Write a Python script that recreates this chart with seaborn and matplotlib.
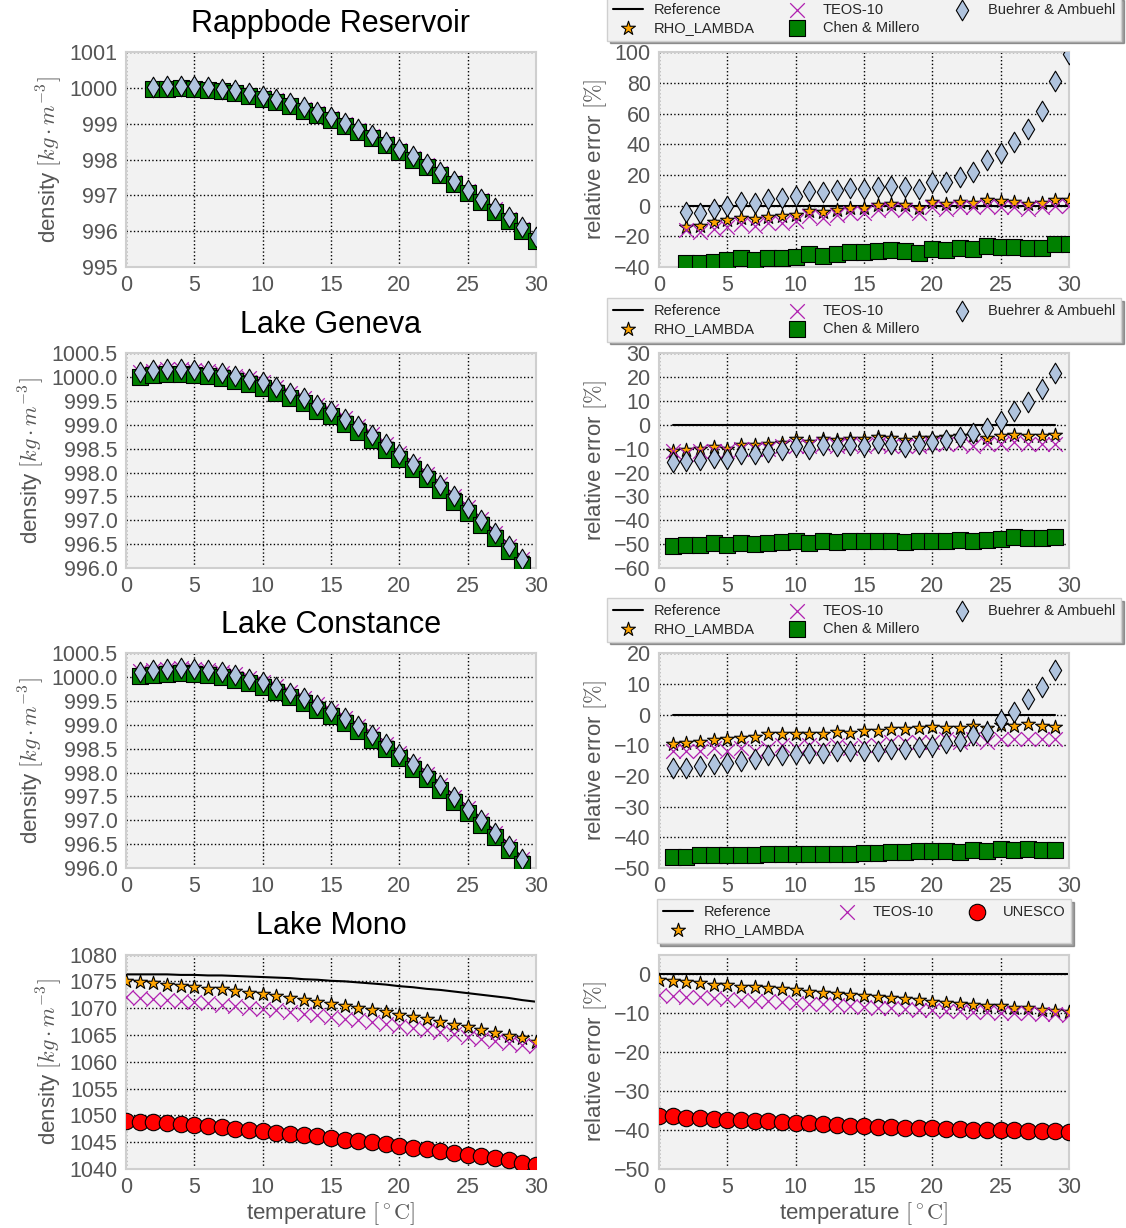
import numpy as np
import matplotlib
matplotlib.use("Agg")
import matplotlib.pyplot as plt
import seaborn as sns

# ─── DATA ─────────────────────────────────────────────────────────────────────
LAKES = ["Rappbode Reservoir", "Lake Geneva", "Lake Constance", "Lake Mono"]

# Rappbode Reservoir, T = 2..30
rap_t = list(range(2, 31))
rap_ref = [1000.00, 1000.03, 1000.03, 1000.02, 999.99, 999.95, 999.91, 999.83, 999.76, 999.67,
           999.55, 999.43, 999.30, 999.16, 999.00, 998.84, 998.66, 998.47, 998.27, 998.06,
           997.85, 997.62, 997.38, 997.12, 996.87, 996.61, 996.35, 996.07, 995.79]
rap_rho = [999.99, 1000.02, 1000.02, 1000.01, 999.98, 999.94, 999.90, 999.82, 999.75, 999.66,
           999.55, 999.43, 999.30, 999.16, 999.00, 998.84, 998.66, 998.47, 998.27, 998.06,
           997.85, 997.62, 997.38, 997.12, 996.87, 996.61, 996.35, 996.07, 995.79]
rap_teos = [999.98, 1000.01, 1000.01, 1000.00, 999.97, 999.93, 999.89, 999.81, 999.74, 999.66,
            999.54, 999.42, 999.30, 999.16, 999.00, 998.84, 998.66, 998.47, 998.27, 998.06,
            997.85, 997.62, 997.38, 997.12, 996.87, 996.61, 996.35, 996.07, 995.79]
rap_chen = [999.97, 999.99, 1000.00, 999.99, 999.96, 999.91, 999.87, 999.79, 999.71, 999.62,
            999.50, 999.37, 999.24, 999.10, 998.94, 998.78, 998.60, 998.41, 998.21, 998.00,
            997.79, 997.56, 997.31, 997.06, 996.81, 996.55, 996.28, 996.00, 995.72]
rap_bue = [1000.03, 1000.06, 1000.06, 1000.05, 1000.02, 999.98, 999.94, 999.86, 999.79, 999.70,
           999.58, 999.46, 999.33, 999.19, 999.03, 998.87, 998.69, 998.50, 998.30, 998.09,
           997.89, 997.65, 997.41, 997.16, 996.91, 996.65, 996.39, 996.11, 995.83]
rap_err_rho = [-13.7, -13.5, -10.9, -9.1, -8.0, -8.9, -7.2, -6.5, -6.1, -3.3, -4.1, -2.6, -1.3, -1.3,
               0.4, 1.3, 0.4, -1.3, 2.2, 1.1, 2.2, 1.7, 3.9, 2.8, 2.2, 1.1, 1.5, 3.9, 3.5]
rap_err_teos = [-16, -17, -15, -14, -12, -13, -11, -11, -10, -7, -8, -6, -5, -5, -3, -2, -3, -5,
                -1, -2, -1, -1, 0, -1, -1, -2, -1, 0, 0]
rap_err_chen = [-37.6, -37.6, -36.5, -35.4, -34.3, -35.4, -33.9, -33.9, -33.2, -31.7, -32.6, -31.3,
                -30.4, -30.4, -29.6, -28.9, -29.6, -30.7, -28.3, -28.9, -27.8, -28.3, -26.1, -27.0,
                -27.0, -27.8, -27.4, -25.2, -25.2]
rap_err_bue = [-3.9, -4.5, -2.2, 0.0, 2.2, 1.5, 4.3, 5.2, 6.5, 9.6, 8.7, 10.4, 11.7, 10.9, 12.4, 13.0,
               12.2, 10.7, 15.2, 15.4, 18.9, 22.2, 29.6, 34.3, 41.7, 50.0, 61.7, 81.3, 99.3]

# Lake Geneva, T = 1..29
gen_t = list(range(1, 30))
gen_ref = [1000.15, 1000.18, 1000.20, 1000.20, 1000.19, 1000.16, 1000.12, 1000.06, 1000.00, 999.92,
           999.82, 999.70, 999.59, 999.44, 999.32, 999.16, 999.00, 998.82, 998.62, 998.43,
           998.21, 998.00, 997.78, 997.53, 997.29, 997.04, 996.76, 996.49, 996.21]
gen_rho = [1000.12, 1000.15, 1000.17, 1000.17, 1000.16, 1000.13, 1000.10, 1000.04, 999.98, 999.90,
           999.80, 999.68, 999.57, 999.42, 999.30, 999.15, 998.99, 998.81, 998.61, 998.42,
           998.20, 997.99, 997.77, 997.52, 997.28, 997.03, 996.75, 996.48, 996.20]
gen_teos = [1000.12, 1000.14, 1000.17, 1000.17, 1000.16, 1000.13, 1000.09, 1000.03, 999.98, 999.90,
            999.80, 999.68, 999.57, 999.42, 999.30, 999.14, 998.98, 998.80, 998.60, 998.41,
            998.19, 997.98, 997.76, 997.51, 997.27, 997.02, 996.74, 996.47, 996.19]
gen_chen = [1000.01, 1000.04, 1000.06, 1000.06, 1000.05, 1000.02, 999.98, 999.92, 999.86, 999.78,
            999.68, 999.56, 999.45, 999.30, 999.18, 999.02, 998.86, 998.68, 998.48, 998.29,
            998.07, 997.86, 997.64, 997.39, 997.15, 996.90, 996.62, 996.35, 996.07]
gen_bue = [1000.12, 1000.15, 1000.17, 1000.17, 1000.16, 1000.13, 1000.09, 1000.03, 999.97, 999.89,
           999.79, 999.67, 999.56, 999.41, 999.29, 999.13, 998.97, 998.79, 998.59, 998.40,
           998.18, 997.97, 997.75, 997.50, 997.26, 997.01, 996.73, 996.46, 996.18]
gen_err_rho = [-11.1, -10.7, -10.3, -9.3, -10.0, -8.6, -8.6, -8.1, -7.5, -6.1, -7.2, -5.8, -6.4, -5.8,
               -5.8, -5.0, -5.3, -6.4, -5.6, -5.6, -5.1, -4.7, -4.7, -5.4, -4.7, -4.2, -4.7, -4.7, -4.4]
gen_err_teos = [-11, -12, -11, -11, -11, -10, -10, -10, -9, -9, -9, -8, -9, -8, -9, -8, -9, -9, -9,
                -8, -8, -8, -9, -8, -8, -7, -8, -8, -8]
gen_err_chen = [-50.8, -50.3, -50.3, -49.7, -50.4, -49.6, -49.9, -49.6, -49.3, -48.9, -49.6, -48.6,
                -49.2, -48.9, -48.9, -48.5, -48.6, -49.3, -48.9, -48.9, -48.6, -48.3, -48.5, -48.2,
                -47.8, -47.2, -47.5, -47.5, -47.2]
gen_err_bue = [-15.6, -15.1, -14.9, -13.7, -14.2, -12.1, -12.1, -11.4, -10.4, -9.0, -10.0, -8.3, -8.9,
               -8.3, -8.8, -7.5, -8.1, -9.2, -7.9, -7.2, -6.4, -4.9, -3.5, -1.1, 1.8, 6.0, 9.7, 15.0, 21.7]

# Lake Constance, T = 1..29
con_t = list(range(1, 30))
con_ref = [1000.16, 1000.19, 1000.21, 1000.23, 1000.21, 1000.19, 1000.14, 1000.09, 1000.01, 999.94,
           999.84, 999.72, 999.60, 999.46, 999.33, 999.18, 999.01, 998.83, 998.64, 998.44,
           998.22, 998.01, 997.77, 997.52, 997.28, 997.04, 996.77, 996.50, 996.22]
con_rho = [1000.14, 1000.17, 1000.19, 1000.21, 1000.19, 1000.17, 1000.12, 1000.07, 999.99, 999.92,
           999.82, 999.70, 999.58, 999.44, 999.31, 999.16, 998.99, 998.81, 998.62, 998.42,
           998.20, 997.99, 997.75, 997.50, 997.26, 997.02, 996.75, 996.48, 996.20]
con_teos = [1000.13, 1000.16, 1000.18, 1000.20, 1000.18, 1000.16, 1000.11, 1000.06, 999.98, 999.91,
            999.81, 999.69, 999.57, 999.43, 999.30, 999.15, 998.98, 998.80, 998.61, 998.41,
            998.19, 997.98, 997.74, 997.49, 997.25, 997.01, 996.74, 996.47, 996.19]
con_chen = [1000.02, 1000.05, 1000.07, 1000.09, 1000.07, 1000.05, 1000.00, 999.95, 999.87, 999.80,
            999.70, 999.58, 999.46, 999.32, 999.19, 999.04, 998.87, 998.69, 998.50, 998.30,
            998.08, 997.87, 997.64, 997.39, 997.15, 996.91, 996.64, 996.37, 996.09]
con_bue = [1000.12, 1000.15, 1000.17, 1000.19, 1000.17, 1000.15, 1000.10, 1000.05, 999.97, 999.90,
           999.80, 999.68, 999.56, 999.42, 999.29, 999.14, 998.97, 998.79, 998.60, 998.40,
           998.18, 997.97, 997.73, 997.48, 997.24, 997.00, 996.73, 996.46, 996.18]
con_err_rho = [-9.5, -9.3, -8.8, -8.2, -8.0, -7.7, -7.2, -6.4, -6.4, -6.2, -6.2, -6.4, -5.8, -6.1, -5.3,
               -5.3, -4.8, -4.8, -4.2, -4.0, -4.2, -4.4, -3.7, -4.4, -3.4, -3.7, -3.1, -3.7, -3.9]
con_err_teos = [-12, -12, -12, -11, -12, -11, -12, -11, -10, -11, -10, -11, -10, -11, -10, -10, -9, -9,
                -9, -9, -8, -9, -8, -9, -8, -8, -8, -8, -8]
con_err_chen = [-46.4, -46.3, -45.9, -45.7, -45.8, -45.7, -45.7, -45.3, -45.3, -45.3, -45.5, -45.6,
                -45.3, -45.5, -45.1, -45.2, -44.9, -44.9, -44.6, -44.6, -44.6, -44.8, -44.2, -44.6,
                -43.9, -44.0, -43.7, -44.0, -44.0]
con_err_bue = [-17.4, -17.4, -16.6, -16.0, -15.6, -15.0, -14.5, -13.3, -13.1, -12.8, -12.5, -12.5, -12.0,
               -12.0, -11.7, -11.8, -11.2, -11.2, -10.6, -10.2, -9.3, -8.5, -6.6, -5.5, -1.8, 1.0, 5.1,
               9.2, 14.5]

# Lake Mono, T = 0..30
mono_t = list(range(0, 31))
mono_ref = [1076.3, 1076.3, 1076.3, 1076.3, 1076.2, 1076.2, 1076.1, 1076.1, 1076.0, 1075.9, 1075.8,
            1075.7, 1075.6, 1075.4, 1075.3, 1075.1, 1075.0, 1074.8, 1074.6, 1074.4, 1074.1, 1073.9,
            1073.6, 1073.4, 1073.1, 1072.8, 1072.5, 1072.2, 1071.9, 1071.5, 1071.2]
mono_rho = [1075.0, 1074.9, 1074.6, 1074.4, 1074.1, 1073.9, 1073.6, 1073.5, 1073.2, 1072.8, 1072.6,
            1072.2, 1071.9, 1071.6, 1071.2, 1070.8, 1070.4, 1070.0, 1069.6, 1069.2, 1068.7, 1068.3,
            1067.9, 1067.4, 1066.9, 1066.4, 1065.9, 1065.4, 1064.9, 1064.4, 1063.7]
mono_teos = [1072.0, 1071.9, 1071.7, 1071.5, 1071.3, 1071.1, 1070.9, 1070.6, 1070.4, 1070.1, 1069.9,
             1069.6, 1069.3, 1069.0, 1068.7, 1068.4, 1068.0, 1067.7, 1067.4, 1067.0, 1066.6, 1066.3,
             1065.9, 1065.5, 1065.1, 1064.7, 1064.3, 1063.9, 1063.5, 1063.1, 1062.9]
mono_unesco = [1048.9, 1048.8, 1048.7, 1048.5, 1048.4, 1048.2, 1048.0, 1047.8, 1047.5, 1047.3, 1047.1,
               1046.8, 1046.6, 1046.3, 1046.1, 1045.8, 1045.5, 1045.3, 1045.0, 1044.7, 1044.3, 1044.0,
               1043.7, 1043.4, 1043.0, 1042.7, 1042.4, 1042.0, 1041.6, 1041.2, 1040.8]
mono_err_rho = [-1.5, -1.7, -2.1, -2.4, -2.7, -2.9, -3.2, -3.4, -3.7, -3.9, -4.2, -4.5, -4.8, -5.1, -5.5,
                -5.7, -5.9, -6.2, -6.4, -6.7, -7.1, -7.4, -7.6, -8.0, -8.1, -8.3, -8.6, -8.8, -9.1,
                -9.4, -9.7]
mono_err_teos = [-5.4, -5.6, -5.8, -6.0, -6.2, -6.4, -6.6, -6.8, -7.0, -7.2, -7.4, -7.6, -7.8, -8.0,
                 -8.2, -8.4, -8.6, -8.8, -9.0, -9.1, -9.3, -9.4, -9.6, -9.7, -9.8, -9.9, -10.0, -10.1,
                 -10.2, -10.3, -10.4]
mono_err_unesco = [-36.3, -36.5, -36.8, -37.0, -37.1, -37.3, -37.5, -37.7, -37.8, -38.0, -38.2, -38.3,
                   -38.5, -38.7, -38.9, -39.0, -39.1, -39.3, -39.4, -39.5, -39.5, -39.7, -39.8, -39.9,
                   -40.0, -40.1, -40.1, -40.2, -40.2, -40.3, -40.4]

# axis ranges / ticks per row
LEFT_YLIM = [(995, 1001), (996.0, 1000.5), (996.0, 1000.5), (1040, 1080)]
LEFT_YTICKS = [np.arange(995, 1002, 1), np.arange(996.0, 1000.51, 0.5),
               np.arange(996.0, 1000.51, 0.5), np.arange(1040, 1081, 5)]
LEFT_FMT = ["{:.0f}", "{:.1f}", "{:.1f}", "{:.0f}"]
RIGHT_YLIM = [(-40, 100), (-60, 30), (-50, 20), (-50, 5)]
RIGHT_YTICKS = [np.arange(-40, 101, 20), np.arange(-60, 31, 10),
                np.arange(-50, 21, 10), np.arange(-50, 1, 10)]

# ─── STYLE ────────────────────────────────────────────────────────────────────
sns.set_style("whitegrid", {
    "axes.facecolor": "#f2f2f2",
    "axes.edgecolor": "#cfcfcf",
    "grid.color": "black",
    "grid.linestyle": ":",
})
plt.rcParams.update({
    "font.family": ["Liberation Sans", "DejaVu Sans"],
    "mathtext.fontset": "cm",
    "axes.linewidth": 1.5,
    "grid.linewidth": 1.0,
    "xtick.color": "#555555",
    "ytick.color": "#555555",
    "axes.labelcolor": "#555555",
})

C_RHO = "#ffa500"
C_TEOS = "#b020b0"
C_CHEN = "#008000"
C_BUE = "#b0c4de"
C_UNESCO = "#ff0000"

fig = plt.figure(figsize=(11.26, 12.28), dpi=100)

LEFT_X, RIGHT_X, AX_W, AX_H = 0.1119, 0.5853, 0.3641, 0.1747
BOTTOMS = [0.7826, 0.5375, 0.2932, 0.0480]


def draw_models(ax, t, ref, rho, teos, third, fourth=None, third_kind="chen"):
    sns.lineplot(x=t, y=ref, ax=ax, color="black", linewidth=1.5, label="Reference")
    sns.scatterplot(x=t, y=rho, ax=ax, marker="*", s=110, color=C_RHO,
                    edgecolor="black", linewidth=0.8, label="RHO_LAMBDA", zorder=3)
    sns.scatterplot(x=t, y=teos, ax=ax, marker="x", s=110, color=C_TEOS,
                    linewidth=0.9, label="TEOS-10", zorder=3)
    if third_kind == "chen":
        sns.scatterplot(x=t, y=third, ax=ax, marker="s", s=120, color=C_CHEN,
                        edgecolor="black", linewidth=0.8, label="Chen & Millero", zorder=3)
        sns.scatterplot(x=t, y=fourth, ax=ax, marker="d", s=110, color=C_BUE,
                        edgecolor="black", linewidth=0.8, label="Buehrer & Ambuehl", zorder=3)
    else:
        sns.scatterplot(x=t, y=third, ax=ax, marker="o", s=140, color=C_UNESCO,
                        edgecolor="black", linewidth=0.8, label="UNESCO", zorder=3)


def finish(ax, ylim, yticks, fmt=None):
    ax.set_xlim(0, 30)
    ax.set_xticks(range(0, 31, 5))
    ax.set_ylim(*ylim)
    ax.set_yticks(yticks)
    if fmt:
        ax.set_yticklabels([fmt.format(v) for v in yticks])
    ax.tick_params(labelsize=15.5, length=0, pad=6)
    ax.grid(True)


rows = [
    (rap_t, rap_ref, rap_rho, rap_teos, rap_chen, rap_bue,
     rap_err_rho, rap_err_teos, rap_err_chen, rap_err_bue),
    (gen_t, gen_ref, gen_rho, gen_teos, gen_chen, gen_bue,
     gen_err_rho, gen_err_teos, gen_err_chen, gen_err_bue),
    (con_t, con_ref, con_rho, con_teos, con_chen, con_bue,
     con_err_rho, con_err_teos, con_err_chen, con_err_bue),
]

for i in range(4):
    axl = fig.add_axes([LEFT_X, BOTTOMS[i], AX_W, AX_H])
    axr = fig.add_axes([RIGHT_X, BOTTOMS[i], AX_W, AX_H])

    if i < 3:
        t, ref, rho, teos, chen, bue, e_rho, e_teos, e_chen, e_bue = rows[i]
        draw_models(axl, t, ref, rho, teos, chen, bue)
        draw_models(axr, t, np.zeros(len(t)), e_rho, e_teos, e_chen, e_bue)
    else:
        draw_models(axl, mono_t, mono_ref, mono_rho, mono_teos, mono_unesco, third_kind="unesco")
        draw_models(axr, mono_t, np.zeros(len(mono_t)), mono_err_rho, mono_err_teos,
                    mono_err_unesco, third_kind="unesco")

    axl.get_legend().remove()
    axr.get_legend().remove()

    finish(axl, LEFT_YLIM[i], LEFT_YTICKS[i], LEFT_FMT[i])
    finish(axr, RIGHT_YLIM[i], RIGHT_YTICKS[i])

    axl.set_title(LAKES[i], fontsize=22, pad=15, color="black")
    axl.set_ylabel(r"density $[kg \cdot m^{-3}]$", fontsize=16)
    axr.set_ylabel(r"relative error $[\%]$", fontsize=16)
    if i == 3:
        axl.set_xlabel(r"temperature $[^\circ \mathrm{C}]$", fontsize=16, labelpad=1)
        axr.set_xlabel(r"temperature $[^\circ \mathrm{C}]$", fontsize=16, labelpad=1)

    leg = axr.legend(ncol=3, loc="lower center", bbox_to_anchor=(0.5, 1.055),
                     fontsize=10.5, shadow=True, fancybox=False, frameon=True,
                     scatterpoints=1, columnspacing=1.9, handlelength=2.05,
                     handletextpad=0.75, borderaxespad=0, labelspacing=0.25)
    leg.get_frame().set_facecolor("#f2f2f2")
    leg.get_frame().set_edgecolor("#cfcfcf")

fig.savefig("out.png", dpi=100)
